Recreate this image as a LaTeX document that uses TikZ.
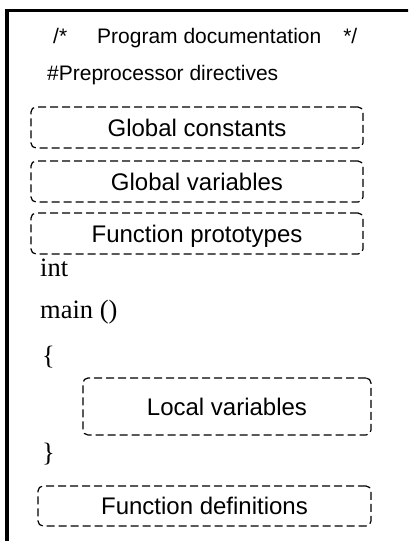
\documentclass[tikz,border=0pt]{standalone}
\usepackage{fontspec}
\setmainfont{Liberation Sans}
\newfontfamily\serifface{Liberation Serif}
\begin{document}
\begin{tikzpicture}[x=1pt,y=-1pt,
  dbox/.style={draw, dashed, dash pattern=on 8pt off 4pt, line width=1.2pt,
    rounded corners=5pt, inner sep=0pt, text height=17pt, text depth=0pt,
    font=\fontsize{24}{28}\selectfont, align=center},
  headtext/.style={anchor=base west, inner sep=0pt, font=\fontsize{21}{24}\selectfont},
  codetext/.style={anchor=base west, inner sep=0pt, font=\serifface\fontsize{26.5}{30}\selectfont}]
\useasboundingbox (0,0) rectangle (408,541);
\clip (0,0) rectangle (408,541);
\draw[line width=3.2pt] (7,10.5) rectangle (440,580);
\node[headtext] (doc) at (53,43) {/*\hspace{30pt}Program documentation\hspace{22pt}*/};
\node[headtext] (pre) at (47,80) {\#Preprocessor directives};
\node[dbox, minimum width=332pt, minimum height=41pt] (gc) at (197,127.5) {Global constants};
\node[dbox, minimum width=332pt, minimum height=41pt] (gv) at (197,181.5) {Global variables};
\node[dbox, minimum width=332pt, minimum height=41pt] (fp) at (197,233.5) {Function prototypes};
\node[codetext] (int) at (40,276) {int};
\node[codetext] (main) at (40,318) {main ()};
\node[codetext] (ob) at (42,364) {\{};
\node[dbox, minimum width=288pt, minimum height=57pt] (lv) at (227,406.5) {Local variables};
\node[codetext] (cb) at (42,461) {\}};
\node[dbox, minimum width=333pt, minimum height=40pt] (fd) at (204.5,506) {Function definitions};
\end{tikzpicture}
\end{document}
